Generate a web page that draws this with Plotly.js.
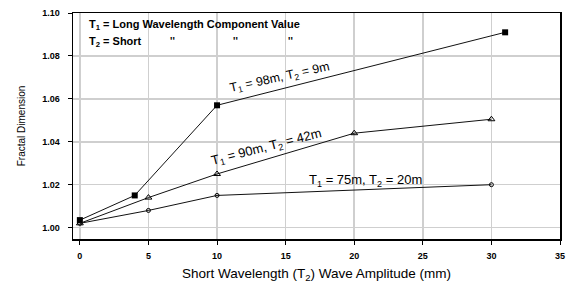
<!DOCTYPE html>
<html><head><meta charset="utf-8">
<script src="https://cdn.plot.ly/plotly-3.0.1.min.js"></script>
<style>html,body{margin:0;padding:0;background:#fff}#c{width:570px;height:285px}</style>
</head><body><div id="c"></div>
<script>
// Series data (x = short wavelength wave amplitude, mm; y = fractal dimension)
const x98 = [0, 4, 10, 31];
const y98 = [1.0035, 1.015, 1.057, 1.091];
const x90 = [0, 5, 10, 20, 30];
const y90 = [1.002, 1.014, 1.025, 1.044, 1.0505];
const x75 = [0, 5, 10, 30];
const y75 = [1.002, 1.008, 1.015, 1.020];
const xTicks = [0, 5, 10, 15, 20, 25, 30, 35];
const yTicks = [1.00, 1.02, 1.04, 1.06, 1.08, 1.10];

const lineStyle = {color: '#111', width: 1};
const traces = [
  {x: x98, y: y98, mode: 'lines+markers', line: lineStyle,
   marker: {symbol: 'square', size: 6, color: '#000'}},
  {x: x90, y: y90, mode: 'lines+markers', line: lineStyle,
   marker: {symbol: 'triangle-up-open', size: 6, color: '#000', line: {width: 1}}},
  {x: x75, y: y75, mode: 'lines+markers', line: lineStyle,
   marker: {symbol: 'circle-open', size: 4, color: '#000', line: {width: 1}}}
];

const F = 'Liberation Sans, Arial, sans-serif';
const layout = {
  width: 570, height: 285,
  margin: {l: 73, r: 10, t: 13, b: 46},
  paper_bgcolor: '#fff', plot_bgcolor: '#fff',
  showlegend: false,
  font: {family: F, size: 8, color: '#000'},
  xaxis: {
    range: [-0.5, 35], tickvals: xTicks, ticktext: xTicks.map(String),
    showgrid: true, gridcolor: '#cfcfcf', gridwidth: 1.5,
    showline: true, linecolor: '#000', linewidth: 1.5, mirror: true,
    ticks: 'outside', ticklen: 4, tickcolor: '#000', zeroline: false,
    ticklabelstandoff: 4,
    tickfont: {family: F, size: 9, weight: 'bold'},
    title: {text: 'Short Wavelength (T<sub>2</sub>) Wave Amplitude (mm)', font: {family: F, size: 13.5}, standoff: 8}
  },
  yaxis: {
    range: [0.9947, 1.10], tickvals: yTicks, ticktext: yTicks.map(v => v.toFixed(2)),
    showgrid: true, gridcolor: '#cfcfcf', gridwidth: 1.5,
    showline: true, linecolor: '#000', linewidth: 1.5, mirror: true,
    ticks: 'outside', ticklen: 4, tickcolor: '#000', zeroline: false,
    ticklabelstandoff: 6,
    tickfont: {family: F, size: 9, weight: 'bold'},
    title: {text: 'Fractal Dimension', font: {family: F, size: 10}, standoff: 14}
  },
  annotations: [
    {xref: 'paper', yref: 'paper', x: 0.029, y: 0.947, xanchor: 'left', yanchor: 'middle', showarrow: false,
     text: '<b>T<sub>1</sub> = Long Wavelength Component Value</b>', font: {family: F, size: 11}},
    {xref: 'paper', yref: 'paper', x: 0.029, y: 0.872, xanchor: 'left', yanchor: 'middle', showarrow: false,
     text: '<b>T<sub>2</sub> = Short</b>', font: {family: F, size: 11}},
    {xref: 'paper', yref: 'paper', x: 0.195, y: 0.905, showarrow: false, text: "<b>''</b>", font: {family: F, size: 10}},
    {xref: 'paper', yref: 'paper', x: 0.324, y: 0.905, showarrow: false, text: "<b>''</b>", font: {family: F, size: 10}},
    {xref: 'paper', yref: 'paper', x: 0.446, y: 0.905, showarrow: false, text: "<b>''</b>", font: {family: F, size: 10}},
    {x: 14.6, y: 1.0695, showarrow: false, textangle: -12.4,
     text: 'T<sub>1</sub> = 98m, T<sub>2</sub> = 9m', font: {family: F, size: 12.5}},
    {x: 13.6, y: 1.0372, showarrow: false, textangle: -14.4,
     text: 'T<sub>1</sub> = 90m, T<sub>2</sub> = 42m', font: {family: F, size: 13}},
    {x: 20.85, y: 1.0218, showarrow: false,
     text: 'T<sub>1</sub> = 75m, T<sub>2</sub> = 20m', font: {family: F, size: 13}}
  ]
};
Plotly.newPlot('c', traces, layout, {staticPlot: true, displayModeBar: false});
</script>
</body></html>
